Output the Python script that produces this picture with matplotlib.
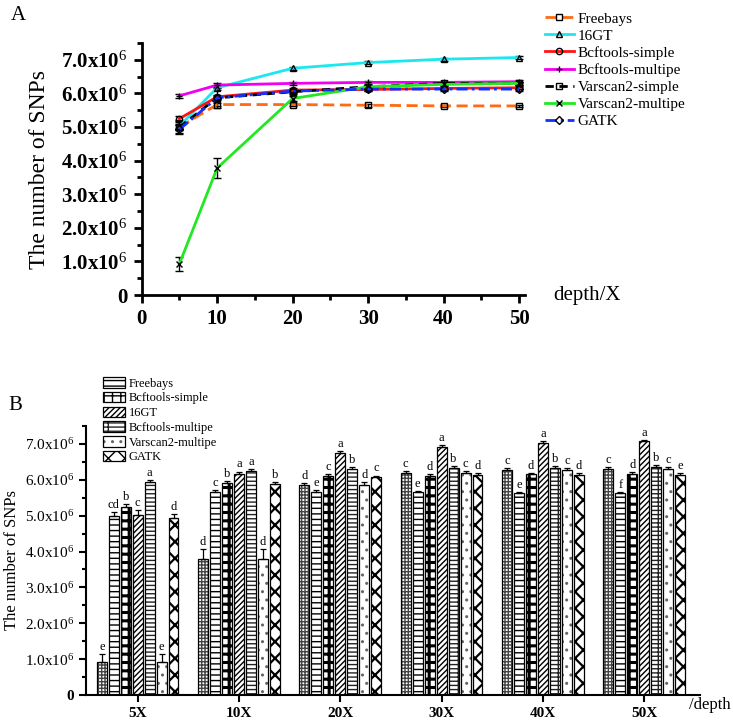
import numpy as np
import matplotlib
matplotlib.use('Agg')
import matplotlib.pyplot as plt
import matplotlib.patches as mpatches
from matplotlib.ticker import MultipleLocator, FuncFormatter

plt.rcParams['font.family'] = ['Liberation Serif', 'DejaVu Serif']
plt.rcParams['mathtext.fontset'] = 'custom'
plt.rcParams['mathtext.rm'] = 'Liberation Serif'
plt.rcParams['mathtext.it'] = 'Liberation Serif:italic'
plt.rcParams['mathtext.bf'] = 'Liberation Serif:bold'
plt.rcParams['hatch.linewidth'] = 1.0

# ---- data (SNP counts in units of 10^6) ----
depths = [5, 10, 20, 30, 40, 50]
depth_labels = ['5X', '10X', '20X', '30X', '40X', '50X']

freebays = [5.00, 5.67, 5.67, 5.65, 5.63, 5.63]
gt16 = [5.03, 6.17, 6.75, 6.92, 7.02, 7.07]
bcf_simple = [5.25, 5.90, 6.10, 6.12, 6.15, 6.17]
bcf_multi = [5.93, 6.25, 6.30, 6.33, 6.33, 6.35]
varscan_simple = [5.00, 5.87, 6.05, 6.20, 6.30, 6.30]
varscan_multi = [0.93, 3.78, 5.85, 6.20, 6.27, 6.30]
gatk = [4.93, 5.87, 6.07, 6.13, 6.13, 6.13]

# first (unlabelled) bar series in panel B
varscan_simple_b = [0.93, 3.78, 5.85, 6.20, 6.27, 6.30]

err_freebays = [0.10, 0.05, 0.04, 0.04, 0.04, 0.04]
err_gt16 = [0.12, 0.06, 0.05, 0.05, 0.05, 0.05]
err_bcf_simple = [0.08, 0.06, 0.05, 0.05, 0.05, 0.05]
err_bcf_multi = [0.06, 0.05, 0.05, 0.05, 0.05, 0.05]
err_varscan_simple = [0.20, 0.30, 0.06, 0.05, 0.05, 0.05]
err_varscan_multi = [0.20, 0.30, 0.08, 0.05, 0.05, 0.05]
err_gatk = [0.12, 0.06, 0.05, 0.05, 0.05, 0.05]

letters_vs_b = ['e', 'd', 'd', 'c', 'c', 'c']
letters_freebays = ['cd', 'c', 'e', 'e', 'e', 'f']
letters_bcf_simple = ['b', 'b', 'c', 'd', 'd', 'd']
letters_gt16 = ['c', 'a', 'a', 'a', 'a', 'a']
letters_bcf_multi = ['a', 'a', 'b', 'b', 'b', 'b']
letters_varscan_multi = ['e', 'd', 'd', 'c', 'c', 'c']
letters_gatk = ['d', 'b', 'c', 'd', 'd', 'e']


def sci_label(v, pos):
    if abs(v) < 1e-9:
        return '0'
    return '%.1fx10$^{6}$' % v


fig = plt.figure(figsize=(7.33, 7.25), dpi=100)

# ---------------- Panel A ----------------
ax1 = fig.add_axes([0.1933, 0.593, 0.523, 0.3476])

lines_a = [
    ('Freebays', freebays, err_freebays, '#ff6a13', (0, (4, 2)), 's', 'none'),
    ('16GT', gt16, err_gt16, '#19e8f0', '-', '^', 'none'),
    ('Bcftools-simple', bcf_simple, err_bcf_simple, '#ff1414', '-', 'o', 'none'),
    ('Bcftools-multipe', bcf_multi, err_bcf_multi, '#f000f0', '-', '+', 'k'),
    ('Varscan2-simple', varscan_simple, err_varscan_simple, 'black', (0, (3, 2)), 's', 'none'),
    ('Varscan2-multipe', varscan_multi, err_varscan_multi, '#22e822', '-', 'x', 'k'),
    ('GATK', gatk, err_gatk, '#1430ff', (0, (4, 1.5, 1, 1.5)), 'D', 'none'),
]

handles_a = []
for name, vals, errs, col, ls, mk, mfc in lines_a:
    cont = ax1.errorbar(depths, vals, yerr=errs, color=col, ls=ls, lw=2.0,
                        marker=mk, ms=4.5, mec='k', mfc=mfc, mew=1.0,
                        ecolor='k', elinewidth=1.0, capsize=3, label=name,
                        clip_on=False)
    handles_a.append(cont[0])

ax1.set_xlim(0, 50.8)
ax1.set_ylim(0, 7.5)
ax1.xaxis.set_major_locator(MultipleLocator(10))
ax1.xaxis.set_minor_locator(MultipleLocator(5))
ax1.yaxis.set_major_locator(MultipleLocator(1))
ax1.yaxis.set_minor_locator(MultipleLocator(0.5))
ax1.yaxis.set_major_formatter(FuncFormatter(sci_label))
for s in ['top', 'right']:
    ax1.spines[s].set_visible(False)
for s in ['left', 'bottom']:
    ax1.spines[s].set_linewidth(2.0)
ax1.tick_params(which='major', direction='out', length=6, width=2.0, labelsize=15, pad=4)
ax1.tick_params(which='minor', direction='out', length=3.5, width=2.0)
for lab in ax1.get_xticklabels() + ax1.get_yticklabels():
    lab.set_fontweight('bold')
ax1.set_ylabel('The number of SNPs', fontsize=17, labelpad=8)
fig.text(0.755, 0.593, 'depth/X', fontsize=15, va='center')
fig.text(0.015, 0.978, 'A', fontsize=15, va='center')

fig.legend(handles_a, [l[0] for l in lines_a], loc='upper left',
           bbox_to_anchor=(0.735, 0.992), frameon=False, fontsize=11,
           handlelength=1.9, handletextpad=0.25, labelspacing=0.22,
           borderaxespad=0)

# ---------------- Panel B ----------------
ax2 = fig.add_axes([0.1173, 0.0414, 0.8377, 0.371])

bar_series = [
    (None, varscan_simple_b, err_varscan_simple, letters_vs_b, '+++++', '#444444', 1.0),
    ('Freebays', freebays, err_freebays, letters_freebays, '---', 'black', 1.0),
    ('Bcftools-simple', bcf_simple, err_bcf_simple, letters_bcf_simple, '++', 'black', 2.2),
    ('16GT', gt16, err_gt16, letters_gt16, '//////', 'black', 1.0),
    ('Bcftools-multipe', bcf_multi, err_bcf_multi, letters_bcf_multi, '----|', '#222222', 1.0),
    ('Varscan2-multipe', varscan_multi, err_varscan_multi, letters_varscan_multi, '..', '#666666', 1.0),
    ('GATK', gatk, err_gatk, letters_gatk, 'xx', 'black', 1.6),
]

x = np.arange(len(depths))
pitch = 0.118
width = 0.098
n = len(bar_series)
handles_b, labels_b = [], []
for i, (name, vals, errs, lets, hatch, hcol, hlw) in enumerate(bar_series):
    pos = x + (i - (n - 1) / 2) * pitch
    bars = ax2.bar(pos, vals, width, color='white', edgecolor=hcol, hatch=hatch, lw=0)
    for b in bars:
        try:
            b.set_hatch_linewidth(hlw)
        except AttributeError:
            pass
    ax2.bar(pos, vals, width, color='none', edgecolor='black', lw=0.9)
    ax2.errorbar(pos, vals, yerr=[np.zeros(len(errs)), errs], fmt='none',
                 ecolor='black', elinewidth=0.9, capsize=2.5, capthick=0.9)
    for p, v, e, t in zip(pos, vals, errs, lets):
        ax2.text(p, v + e + 0.03, t, ha='center', va='bottom', fontsize=9)
    if name:
        fill = mpatches.Patch(facecolor='white', edgecolor=hcol, hatch=hatch, lw=0)
        try:
            fill.set_hatch_linewidth(hlw)
        except AttributeError:
            pass
        edge = mpatches.Patch(facecolor='none', edgecolor='black', lw=0.9)
        handles_b.append((fill, edge))
        labels_b.append(name)

ax2.set_xlim(-0.51, 5.55)
ax2.set_ylim(0, 7.5)
ax2.set_xticks(x)
ax2.set_xticklabels(depth_labels, fontweight='bold', fontsize=11)
ax2.yaxis.set_major_locator(MultipleLocator(1))
ax2.yaxis.set_minor_locator(MultipleLocator(0.5))
ax2.yaxis.set_major_formatter(FuncFormatter(sci_label))
for s in ['top', 'right']:
    ax2.spines[s].set_visible(False)
for s in ['left', 'bottom']:
    ax2.spines[s].set_linewidth(1.5)
ax2.tick_params(which='major', direction='out', length=5, width=1.5, labelsize=11)
ax2.tick_params(which='minor', direction='out', length=3, width=1.5)
for lab in ax2.get_yticklabels():
    if lab.get_text() == '0':
        lab.set_fontweight('bold')
ax2.set_ylabel('The number of SNPs', fontsize=12, labelpad=4)
fig.text(0.94, 0.027, '/depth', fontsize=12, va='center')
fig.text(0.012, 0.44, 'B', fontsize=15, va='center')

ax2.legend(handles_b, labels_b, loc='upper left', bbox_to_anchor=(0.02, 1.2),
           frameon=False, fontsize=9, handlelength=1.7, handleheight=0.9,
           handletextpad=0.35, labelspacing=0.18, borderaxespad=0)

fig.savefig('out.png', dpi=100)
